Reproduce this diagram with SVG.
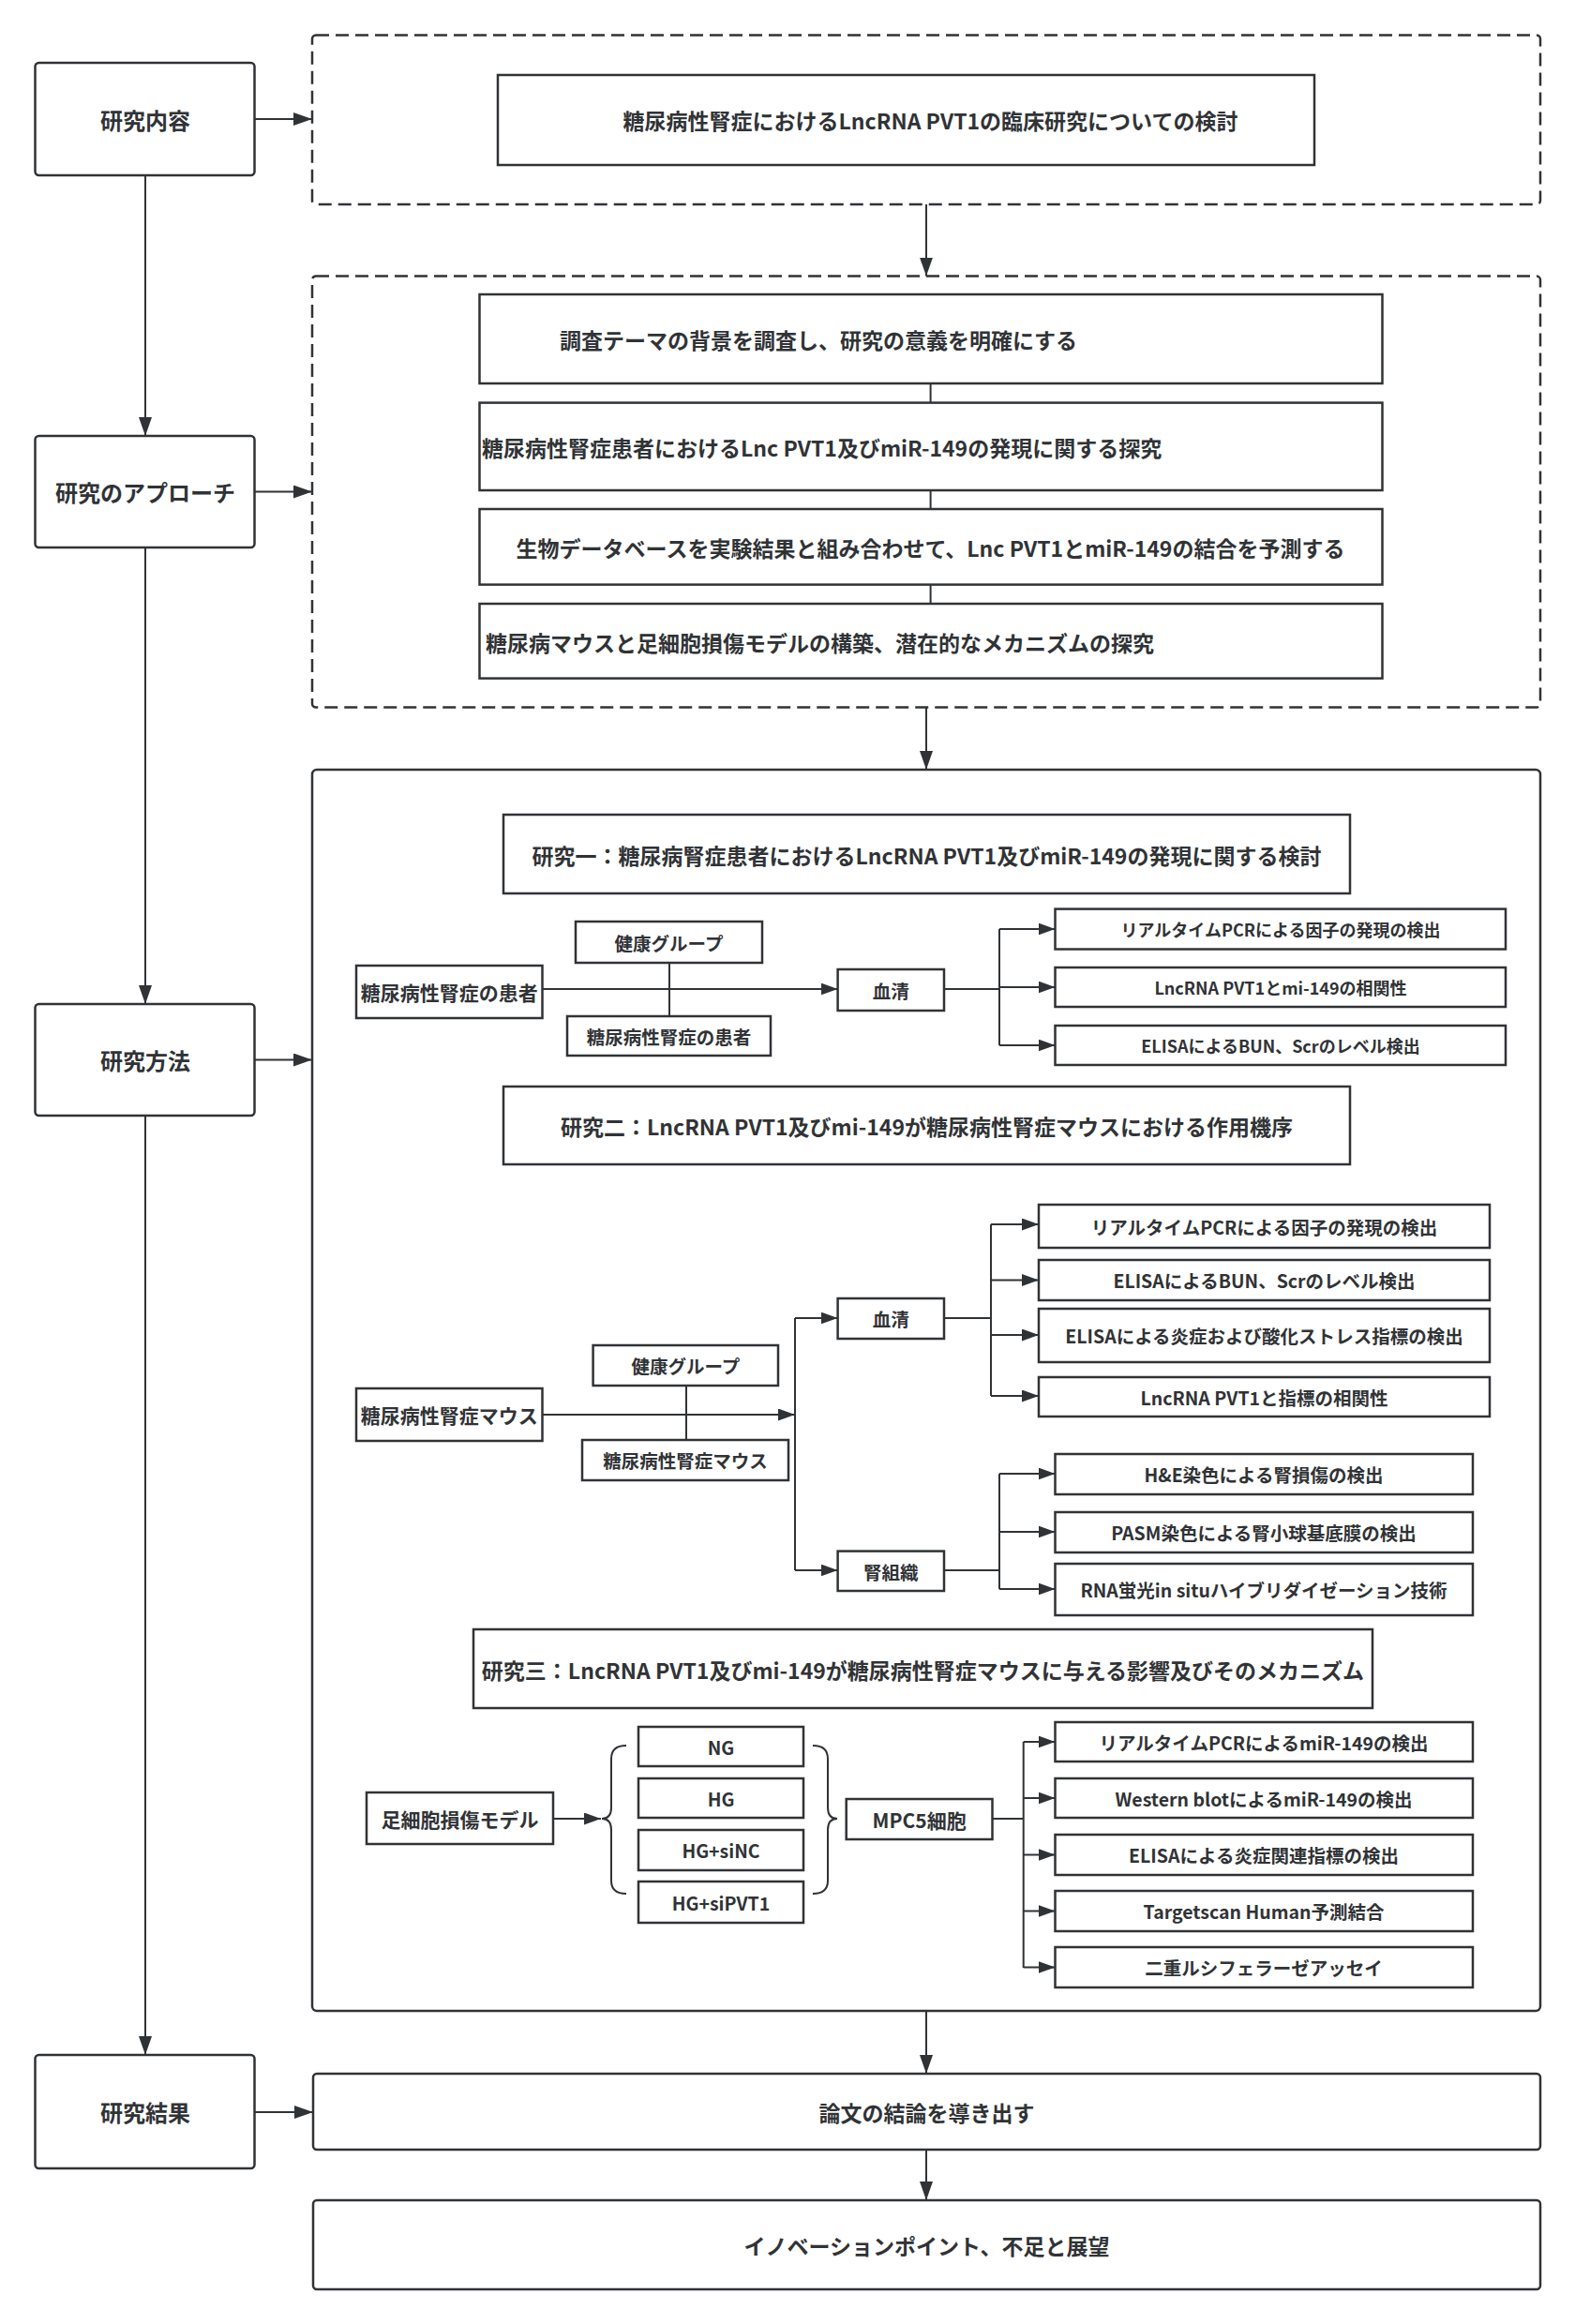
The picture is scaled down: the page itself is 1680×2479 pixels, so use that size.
<svg xmlns="http://www.w3.org/2000/svg" width="1680" height="2479" viewBox="0 0 1680 2479">
<style>
.b{fill:#fff;stroke:#303336;stroke-width:2.5}
.d{fill:none;stroke:#303336;stroke-width:2.5;stroke-dasharray:14 7}
.l{fill:none;stroke:#303336;stroke-width:2}
.a{fill:none;stroke:#303336;stroke-width:2;marker-end:url(#ah)}
.as{fill:none;stroke:#303336;stroke-width:2;marker-end:url(#ahs)}
text{font-family:"Noto Sans CJK JP","Noto Sans CJK SC",sans-serif;font-weight:700;fill:#303336;text-anchor:middle;dominant-baseline:central}
.t24{font-size:24px}.t23{font-size:23px}.t21{font-size:21px}.t19{font-size:19.5px}.t18{font-size:18px}
</style>
<defs>
<marker id="ah" markerUnits="userSpaceOnUse" markerWidth="20" markerHeight="14" refX="20" refY="7" orient="auto"><path d="M0,0 L20,7 L0,14 z" fill="#303336"/></marker>
<marker id="ahs" markerUnits="userSpaceOnUse" markerWidth="18" markerHeight="13" refX="18" refY="6.5" orient="auto"><path d="M0,0 L18,6.5 L0,13 z" fill="#303336"/></marker>
</defs>
<rect width="1680" height="2479" fill="#fff"/>

<g id="connectors">
<path class="a" d="M272,127 L333,127"/>
<path class="a" d="M272,524.5 L333,524.5"/>
<path class="a" d="M272,1130.5 L333,1130.5"/>
<path class="a" d="M272,2253 L334,2253"/>
<path class="a" d="M155,187 L155,465"/>
<path class="a" d="M155,584 L155,1071"/>
<path class="a" d="M155,1190 L155,2192"/>
<path class="a" d="M988,218 L988,294.6"/>
<path class="a" d="M988,755 L988,821"/>
<path class="a" d="M988,2145 L988,2212"/>
<path class="a" d="M988,2293 L988,2347"/>
<path class="l" d="M992.6,409 L992.6,429.6 M992.6,523 L992.6,543 M992.6,623.6 L992.6,644"/>
<!-- study 1 -->
<path class="l" d="M714,1027 L714,1084"/>
<path class="as" d="M578.5,1055 L893.6,1055"/>
<path class="l" d="M1007,1055 L1066,1055 M1066,991 L1066,1115"/>
<path class="as" d="M1066,991 L1125.5,991"/>
<path class="as" d="M1066,1053 L1125.5,1053"/>
<path class="as" d="M1066,1115 L1125.5,1115"/>
<!-- study 2 -->
<path class="l" d="M732,1478 L732,1536"/>
<path class="as" d="M578.5,1509 L848,1509"/>
<path class="l" d="M848,1406 L848,1675"/>
<path class="as" d="M848,1406 L893.6,1406"/>
<path class="as" d="M848,1675 L893.6,1675"/>
<path class="l" d="M1007,1406 L1057,1406 M1057,1306 L1057,1489"/>
<path class="as" d="M1057,1306 L1108,1306"/>
<path class="as" d="M1057,1365.5 L1108,1365.5"/>
<path class="as" d="M1057,1424 L1108,1424"/>
<path class="as" d="M1057,1489 L1108,1489"/>
<path class="l" d="M1007,1675 L1066,1675 M1066,1572 L1066,1695"/>
<path class="as" d="M1066,1572 L1125.5,1572"/>
<path class="as" d="M1066,1634 L1125.5,1634"/>
<path class="as" d="M1066,1695 L1125.5,1695"/>
<!-- study 3 -->
<path class="as" d="M590,1940 L641,1940"/>
<path class="l" d="M668,1862 Q652,1862 652,1876 L652,1928 Q652,1940 642,1940 Q652,1940 652,1952 L652,2006 Q652,2020 668,2020"/>
<path class="l" d="M867,1862 Q883,1862 883,1876 L883,1928 Q883,1940 893,1940 Q883,1940 883,1952 L883,2006 Q883,2020 867,2020"/>
<path class="l" d="M1058.5,1940 L1091.7,1940 M1091.7,1858 L1091.7,2099"/>
<path class="as" d="M1091.7,1858 L1125.5,1858"/>
<path class="as" d="M1091.7,1918 L1125.5,1918"/>
<path class="as" d="M1091.7,1978.5 L1125.5,1978.5"/>
<path class="as" d="M1091.7,2038.5 L1125.5,2038.5"/>
<path class="as" d="M1091.7,2098.5 L1125.5,2098.5"/>
</g>

<g id="n-naiyou"><rect class="b" x="37.5" y="67" width="234" height="120" rx="4"/><text class="t24" x="155" y="127">研究内容</text></g>
<g id="n-approach"><rect class="b" x="37.5" y="465" width="234" height="119" rx="4"/><text class="t24" x="155" y="524.5">研究のアプローチ</text></g>
<g id="n-houhou"><rect class="b" x="37.5" y="1071" width="234" height="119" rx="4"/><text class="t24" x="155" y="1130.5">研究方法</text></g>
<g id="n-kekka"><rect class="b" x="37.5" y="2192" width="234" height="121" rx="4"/><text class="t24" x="155" y="2252.5">研究結果</text></g>

<g id="g-content"><rect class="d" x="333" y="37.5" width="1310" height="180.5" rx="4"/></g>
<g id="n-title"><rect class="b" x="531" y="80" width="871" height="96"/><text class="t23" x="992.5" y="128">糖尿病性腎症におけるLncRNA PVT1の臨床研究についての検討</text></g>

<g id="g-approach"><rect class="d" x="333" y="294.6" width="1310" height="460" rx="4"/></g>
<g id="n-a1"><rect class="b" x="511.5" y="314" width="963" height="95"/><text class="t23" x="873" y="362">調査テーマの背景を調査し、研究の意義を明確にする</text></g>
<g id="n-a2"><rect class="b" x="511.5" y="429.6" width="963" height="93.4"/><text class="t23" x="514" y="477" style="text-anchor:start">糖尿病性腎症患者におけるLnc PVT1及びmiR-149の発現に関する探究</text></g>
<g id="n-a3"><rect class="b" x="511.5" y="543" width="963" height="80.6"/><text class="t23" x="992.5" y="584">生物データベースを実験結果と組み合わせて、Lnc PVT1とmiR-149の結合を予測する</text></g>
<g id="n-a4"><rect class="b" x="511.5" y="644" width="963" height="79.6"/><text class="t23" x="874.5" y="684.5">糖尿病マウスと足細胞損傷モデルの構築、潜在的なメカニズムの探究</text></g>

<g id="g-methods"><rect class="b" x="333" y="821" width="1310" height="1324" rx="5" style="fill:none"/></g>

<g id="n-s1"><rect class="b" x="537" y="869" width="903" height="84"/><text class="t23" x="988.5" y="911.5">研究一：糖尿病腎症患者におけるLncRNA PVT1及びmiR-149の発現に関する検討</text></g>
<g id="n-s1-healthy"><rect class="b" x="614" y="983" width="199" height="44"/><text class="t19" x="713.5" y="1005">健康グループ</text></g>
<g id="n-s1-patient"><rect class="b" x="380" y="1030" width="198.5" height="56"/><text class="t21" x="479.2" y="1058">糖尿病性腎症の患者</text></g>
<g id="n-s1-patient2"><rect class="b" x="605" y="1084" width="217" height="42"/><text class="t19" x="713.5" y="1105">糖尿病性腎症の患者</text></g>
<g id="n-s1-serum"><rect class="b" x="893.6" y="1034" width="113.4" height="44"/><text class="t19" x="950.3" y="1056">血清</text></g>
<g id="n-s1-r1"><rect class="b" x="1125.5" y="969.6" width="480.5" height="42.9"/><text class="t18" x="1366" y="991">リアルタイムPCRによる因子の発現の検出</text></g>
<g id="n-s1-r2"><rect class="b" x="1125.5" y="1032" width="480.5" height="42"/><text class="t18" x="1366" y="1053">LncRNA PVT1とmi-149の相関性</text></g>
<g id="n-s1-r3"><rect class="b" x="1125.5" y="1094" width="480.5" height="42"/><text class="t18" x="1366" y="1115">ELISAによるBUN、Scrのレベル検出</text></g>

<g id="n-s2"><rect class="b" x="537" y="1159" width="903" height="83"/><text class="t23" x="988.5" y="1201">研究二：LncRNA PVT1及びmi-149が糖尿病性腎症マウスにおける作用機序</text></g>
<g id="n-s2-healthy"><rect class="b" x="632.6" y="1435" width="197.4" height="43"/><text class="t19" x="731.3" y="1456.5">健康グループ</text></g>
<g id="n-s2-mouse"><rect class="b" x="380" y="1481" width="198.5" height="56"/><text class="t21" x="479.2" y="1509">糖尿病性腎症マウス</text></g>
<g id="n-s2-mouse2"><rect class="b" x="621" y="1536" width="220" height="43"/><text class="t19" x="731" y="1557.5">糖尿病性腎症マウス</text></g>
<g id="n-s2-serum"><rect class="b" x="893.6" y="1385" width="113.4" height="43"/><text class="t19" x="950.3" y="1406.5">血清</text></g>
<g id="n-s2-kidney"><rect class="b" x="893.6" y="1654.6" width="113.4" height="42.4"/><text class="t19" x="950.3" y="1676">腎組織</text></g>
<g id="n-s2-r1"><rect class="b" x="1108" y="1285" width="481" height="46"/><text class="t19" x="1348.5" y="1308">リアルタイムPCRによる因子の発現の検出</text></g>
<g id="n-s2-r2"><rect class="b" x="1108" y="1344" width="481" height="43"/><text class="t19" x="1348.5" y="1365.5">ELISAによるBUN、Scrのレベル検出</text></g>
<g id="n-s2-r3"><rect class="b" x="1108" y="1396" width="481" height="57"/><text class="t19" x="1348.5" y="1424.5">ELISAによる炎症および酸化ストレス指標の検出</text></g>
<g id="n-s2-r4"><rect class="b" x="1108" y="1469" width="481" height="42"/><text class="t19" x="1348.5" y="1490">LncRNA PVT1と指標の相関性</text></g>
<g id="n-s2-k1"><rect class="b" x="1125.5" y="1551" width="445.5" height="43"/><text class="t19" x="1348" y="1572.5">H&amp;E染色による腎損傷の検出</text></g>
<g id="n-s2-k2"><rect class="b" x="1125.5" y="1613" width="445.5" height="43"/><text class="t19" x="1348" y="1634.5">PASM染色による腎小球基底膜の検出</text></g>
<g id="n-s2-k3"><rect class="b" x="1125.5" y="1668" width="445.5" height="55"/><text class="t19" x="1348" y="1695.5">RNA蛍光in situハイブリダイゼーション技術</text></g>

<g id="n-s3"><rect class="b" x="505" y="1738" width="959" height="84"/><text class="t23" x="984.5" y="1781">研究三：LncRNA PVT1及びmi-149が糖尿病性腎症マウスに与える影響及びそのメカニズム</text></g>
<g id="n-s3-model"><rect class="b" x="391" y="1912" width="199" height="55"/><text class="t21" x="490.5" y="1939.5">足細胞損傷モデル</text></g>
<g id="n-s3-ng"><rect class="b" x="681" y="1842" width="176" height="42"/><text class="t19" x="769" y="1863">NG</text></g>
<g id="n-s3-hg"><rect class="b" x="681" y="1897" width="176" height="42"/><text class="t19" x="769" y="1918">HG</text></g>
<g id="n-s3-hgsinc"><rect class="b" x="681" y="1952" width="176" height="43"/><text class="t19" x="769" y="1973.5">HG+siNC</text></g>
<g id="n-s3-hgsipvt1"><rect class="b" x="681" y="2007" width="176" height="44"/><text class="t19" x="769" y="2029">HG+siPVT1</text></g>
<g id="n-s3-mpc5"><rect class="b" x="902.7" y="1919" width="155.8" height="43"/><text class="t21" x="980.6" y="1940.5">MPC5細胞</text></g>
<g id="n-s3-r1"><rect class="b" x="1125.5" y="1837" width="445.5" height="42"/><text class="t19" x="1348" y="1858">リアルタイムPCRによるmiR-149の検出</text></g>
<g id="n-s3-r2"><rect class="b" x="1125.5" y="1897" width="445.5" height="42"/><text class="t19" x="1348" y="1918">Western blotによるmiR-149の検出</text></g>
<g id="n-s3-r3"><rect class="b" x="1125.5" y="1957" width="445.5" height="43"/><text class="t19" x="1348" y="1978.5">ELISAによる炎症関連指標の検出</text></g>
<g id="n-s3-r4"><rect class="b" x="1125.5" y="2017" width="445.5" height="43"/><text class="t19" x="1348" y="2038.5">Targetscan Human予測結合</text></g>
<g id="n-s3-r5"><rect class="b" x="1125.5" y="2077" width="445.5" height="43"/><text class="t19" x="1348" y="2098.5">二重ルシフェラーゼアッセイ</text></g>

<g id="n-conclusion"><rect class="b" x="334" y="2212" width="1309" height="81" rx="4"/><text class="t23" x="988.5" y="2253">論文の結論を導き出す</text></g>
<g id="n-innovation"><rect class="b" x="334" y="2347" width="1309" height="95" rx="4"/><text class="t23" x="988.5" y="2395">イノベーションポイント、不足と展望</text></g>
</svg>
